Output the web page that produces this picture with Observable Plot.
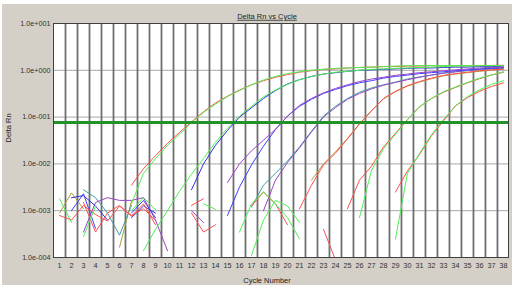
<!DOCTYPE html>
<html><head><meta charset="utf-8">
<script src="https://cdn.jsdelivr.net/npm/d3@7"></script>
<script src="https://cdn.jsdelivr.net/npm/@observablehq/plot@0.6"></script>
<style>
html,body{margin:0;padding:0;background:#fff;}
#panel{position:absolute;left:2px;top:4px;width:510px;height:281px;background:#d4d0c8;}
#chart{position:absolute;left:0;top:0;width:515px;height:290px;}
</style></head><body><div id="panel"></div><div id="chart"></div>
<script>
const _ = null;
const cycles = [1,2,3,4,5,6,7,8,9,10,11,12,13,14,15,16,17,18,19,20,21,22,23,24,25,26,27,28,29,30,31,32,33,34,35,36,37,38];
const xTickLabels = cycles.map(String);
const yTicks = [1e-4, 1e-3, 1e-2, 1e-1, 1, 10];
const yTickLabels = ["1.0e-004","1.0e-003","1.0e-002","1.0e-001","1.0e+000","1.0e+001"];
const threshold = 0.077;
const title = "Delta Rn vs Cycle";
const xLabel = "Cycle Number";
const yLabel = "Delta Rn";

// Delta Rn per cycle (1..38), null where nothing is drawn
const E_olive = [8.9e-4,2.4e-3,1.1e-3,_,_,1.66e-4,1.6e-3,_,_,_,
  _,_,_,_,_,_,_,_,_,_,
  _,4.5e-3,1.0e-2,1.8e-2,3.5e-2,7.2e-2,0.138,0.245,0.35,0.46,
  0.56,0.66,0.76,0.83,0.89,0.95,1.0,1.05];
const D_teal = [_,_,2.8e-3,1.9e-3,8.9e-4,3.0e-4,1.3e-3,_,_,_,
  _,_,_,_,_,_,1.2e-3,3.5e-3,6.3e-3,1.15e-2,
  2.3e-2,5.0e-2,0.105,0.17,0.25,0.34,0.42,0.49,0.56,0.65,
  0.72,0.79,0.87,0.93,0.98,1.02,1.07,1.12];
const D_purple = [_,_,_,_,_,_,_,_,_,_,
  _,1.0e-3,5.6e-4,_,_,_,_,1.0e-3,4.5e-3,1.07e-2,
  2.2e-2,4.8e-2,0.1,0.16,0.24,0.32,0.4,0.48,0.55,0.63,
  0.71,0.79,0.87,0.93,1.0,1.05,1.1,1.15];
const C_blue = [_,1.0e-3,2.3e-3,4.2e-4,_,_,8.9e-4,1.66e-3,7.1e-4,_,
  _,_,_,_,7.9e-4,3.2e-3,9.5e-3,2.4e-2,5.4e-2,0.105,
  0.17,0.24,0.32,0.39,0.47,0.54,0.6,0.68,0.74,0.79,
  0.85,0.89,0.93,0.98,1.02,1.07,1.1,1.12];
const C_purple = [_,_,3.5e-4,1.5e-3,1.9e-3,1.66e-3,1.66e-3,1.9e-3,6.3e-4,1.4e-4,
  _,_,_,_,4.0e-3,1.0e-2,1.9e-2,3.2e-2,5.5e-2,0.105,
  0.178,0.25,0.33,0.41,0.49,0.575,0.65,0.71,0.78,0.83,
  0.89,0.93,0.98,1.02,1.07,1.12,1.15,1.17];
const B_blue = [_,1.9e-3,2.1e-3,1.26e-3,6.3e-4,_,7.1e-4,1.26e-3,8.9e-4,_,
  _,2.8e-3,1.0e-2,2.5e-2,5.2e-2,0.1,0.158,0.25,0.37,0.51,
  0.63,0.74,0.83,0.89,0.95,1.0,1.02,1.05,1.07,1.1,
  1.12,1.12,1.15,1.17,1.17,1.2,1.2,1.23];
const B_green = [_,_,_,_,_,_,_,1.4e-4,4.0e-4,1.0e-3,
  2.6e-3,6.0e-3,1.3e-2,2.9e-2,5.8e-2,0.105,0.17,0.27,0.38,0.5,
  0.63,0.74,0.83,0.91,0.95,1.0,1.05,1.07,1.1,1.12,
  1.15,1.17,1.2,1.23,1.23,1.25,1.25,1.26];
const E_red = [7.9e-4,6.3e-4,1.3e-3,8.3e-4,6.0e-4,1.26e-3,7.9e-4,1.1e-3,6.3e-4,_,
  _,1.3e-3,1.8e-3,_,_,_,_,_,_,_,
  1.1e-3,3.5e-3,9.5e-3,1.7e-2,3.4e-2,7.1e-2,0.135,0.25,0.355,0.47,
  0.575,0.68,0.78,0.85,0.91,0.98,1.02,1.07];
const F_red = [_,_,1.5e-3,3.5e-4,8.9e-4,1.3e-3,7.6e-4,1.4e-3,5.0e-4,_,
  _,_,_,_,_,_,1.26e-3,2.5e-3,1.4e-3,5.0e-4,
  _,_,_,_,1.1e-3,4.5e-3,8.9e-3,2.3e-2,4.5e-2,8.9e-2,
  0.166,0.25,0.34,0.43,0.54,0.66,0.79,0.91];
const F_green = [1.8e-3,5.6e-4,_,_,_,_,_,_,_,_,
  _,_,_,_,_,_,1.1e-4,6.3e-4,1.66e-3,1.26e-3,
  5.6e-4,_,_,_,_,7.1e-4,7.2e-3,2.1e-2,4.3e-2,8.7e-2,
  0.166,0.25,0.35,0.44,0.55,0.68,0.79,0.93];
const G_red = [_,_,_,_,_,_,_,_,_,_,
  _,8.9e-4,3.5e-4,5.0e-4,_,_,_,_,_,_,
  _,_,4.0e-4,8.9e-5,_,_,_,_,2.5e-3,7.1e-3,
  1.58e-2,4.0e-2,8.3e-2,0.174,0.26,0.355,0.45,0.54];
const G_green = [_,_,2.8e-4,1.26e-3,_,_,1.0e-3,1.9e-3,1.05e-3,_,
  _,_,1.4e-3,1.07e-3,_,3.5e-4,1.4e-3,2.5e-3,1.4e-3,7.1e-4,
  2.5e-4,_,_,_,_,_,_,_,2.5e-4,6.3e-3,
  1.66e-2,4.2e-2,8.9e-2,0.174,0.275,0.38,0.5,0.6];
const A_green = [_,_,_,_,_,_,1.4e-3,6.3e-3,1.3e-2,2.5e-2,
  4.3e-2,7.6e-2,0.126,0.19,0.275,0.37,0.49,0.62,0.74,0.85,
  0.93,1.0,1.05,1.1,1.12,1.15,1.17,1.2,1.23,1.25,
  1.26,1.26,1.26,1.26,1.26,1.26,1.26,1.26];
const A_red = [_,_,_,_,_,_,3.5e-3,7.9e-3,1.5e-2,2.75e-2,
  4.7e-2,7.9e-2,0.13,0.2,0.28,0.38,0.49,0.6,0.71,0.81,
  0.91,0.98,1.05,1.07,1.12,1.15,1.17,1.2,1.2,1.23,
  1.23,1.26,1.26,1.26,1.26,1.27,1.27,1.28];

const wellNames = ["E_olive","D_teal","D_purple","C_blue","C_purple","B_blue","B_green","E_red","F_red","F_green","G_red","G_green","A_red","A_green"];
const wellSeries = [E_olive,D_teal,D_purple,C_blue,C_purple,B_blue,B_green,E_red,F_red,F_green,G_red,G_green,A_red,A_green];
const wellColors = ["#aaa040","#3fa0a6","#9a46c8","#4040ff","#9a46c8","#3030e0","#50f050","#ff5050","#ff5050","#50f050","#ff5050","#50f050","#ff5050","#50f050"];

const rows = wellSeries.flatMap((arr, w) => arr.map((v, i) => ({cycle: cycles[i], rn: v, well: wellNames[w]})));
const gridX = cycles.slice(0, -1).map(c => c + 0.5);

const font = "'Liberation Sans', Arial, sans-serif";
const chart = Plot.plot({
  width: 515, height: 290,
  marginLeft: 53, marginRight: 7, marginTop: 23, marginBottom: 33,
  style: {background: "transparent", fontFamily: font, fontSize: "7.2px", color: "#303030"},
  x: {domain: [0.5, 38.42], ticks: cycles, tickFormat: d => xTickLabels[cycles.indexOf(d)], tickSize: 0, tickPadding: 5, label: null},
  y: {type: "log", domain: [1e-4, 10], ticks: yTicks, tickFormat: d => yTickLabels[yTicks.indexOf(d)], tickSize: 0, tickPadding: 3, label: null},
  color: {domain: wellNames, range: wellColors},
  marks: [
    Plot.frame({fill: "white"}),
    Plot.ruleY(yTicks, {stroke: "#a8a8a8", strokeWidth: 1}),
    Plot.ruleX(gridX, {stroke: "#6e6e6e", strokeWidth: 1.8}),
    Plot.line(rows, {x: "cycle", y: "rn", z: "well", stroke: "well", strokeWidth: 1, clip: true}),
    Plot.ruleY([threshold], {stroke: "#22922a", strokeWidth: 3}),
    Plot.frame({stroke: "#404040"}),
    Plot.text([title], {frameAnchor: "top", dx: -14, dy: -10, fontSize: 7.5, fill: "#202020"}),
    Plot.text([xLabel], {frameAnchor: "bottom", dx: -14, dy: 25, fontSize: 7.5, fill: "#202020"}),
    Plot.text([yLabel], {frameAnchor: "left", rotate: -90, dx: -45, dy: 2, fontSize: 7.5, fill: "#202020"})
  ]
});
d3.select(chart).selectAll("text").filter(function(){ return this.textContent === title; }).attr("text-decoration", "underline");
document.getElementById("chart").append(chart);
</script></body></html>
